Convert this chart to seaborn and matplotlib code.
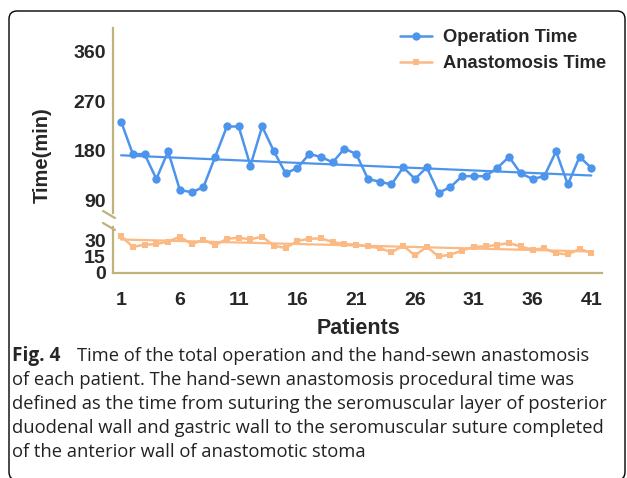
import numpy as np
import pandas as pd
import matplotlib.pyplot as plt
import seaborn as sns
from matplotlib.lines import Line2D
from matplotlib.patches import FancyBboxPatch
from matplotlib.transforms import IdentityTransform

# values
patients = list(range(1, 42))
operation_time = [233, 174, 174, 129, 179, 109, 105, 114, 169, 224,
                  224, 153, 224, 179, 139, 149, 174, 169, 159, 184,
                  174, 129, 124, 119, 150, 129, 150, 104, 114, 134,
                  134, 134, 149, 169, 139, 129, 134, 179, 119, 169, 149]
anastomosis_time = [34.5, 24.5, 26.4, 27, 29.4, 34, 27, 31, 26, 32,
                    33, 31.5, 34, 25.5, 23.3, 30, 32, 32.4, 29, 27,
                    26.6, 24.8, 23.3, 19.4, 25.5, 16.4, 24.5, 15.5, 17, 21,
                    24.5, 24.8, 26.4, 27.9, 24.8, 21.8, 23, 18.5, 17.3, 22.5, 18.8]
x_ticks = [1, 6, 11, 16, 21, 26, 31, 36, 41]
upper_ticks = [90, 180, 270, 360]
lower_ticks = [0, 15, 30]

caption_lines = [
    "of each patient. The hand-sewn anastomosis procedural time was",
    "defined as the time from suturing the seromuscular layer of posterior",
    "duodenal wall and gastric wall to the seromuscular suture completed",
    "of the anterior wall of anastomotic stoma",
]

BLUE = '#4d94ec'
ORANGE = '#fbb984'
AXIS = '#bfb27a'

df = pd.DataFrame({'patient': patients, 'operation': operation_time,
                   'anastomosis': anastomosis_time})

sns.set_style('white')
plt.rcParams['font.family'] = ['Liberation Sans', 'DejaVu Sans']

fig = plt.figure(figsize=(6.27, 4.78), dpi=100)
ax_top = fig.add_axes([0.180, 0.554, 0.780, 0.387])
ax_bot = fig.add_axes([0.180, 0.429, 0.780, 0.096])

for ax, col, color, marker, ms in [(ax_top, 'operation', BLUE, 'o', 6),
                                    (ax_bot, 'anastomosis', ORANGE, 's', 4.5)]:
    sns.lineplot(data=df, x='patient', y=col, ax=ax, color=color, marker=marker,
                 markersize=ms, markeredgewidth=0, linewidth=1.8, clip_on=False)
    sns.regplot(data=df, x='patient', y=col, ax=ax, scatter=False, ci=None,
                color=color, line_kws={'linewidth': 1.6})

for ax in (ax_top, ax_bot):
    ax.set_xlim(0.3, 41.9)
    ax.set_xlabel('')
    ax.set_ylabel('')
    for s in ('top', 'right'):
        ax.spines[s].set_visible(False)
    ax.spines['left'].set_color(AXIS)
    ax.spines['left'].set_linewidth(1.6)
    ax.tick_params(axis='y', direction='out', length=4, width=1.3, color=AXIS,
                   labelsize=14, pad=1)

ax_top.set_ylim(67, 402)
ax_top.set_yticks(upper_ticks)
ax_top.spines['bottom'].set_visible(False)
ax_top.set_xticks([])
for lab in ax_top.get_yticklabels():
    lab.set_fontweight('bold')

ax_bot.set_ylim(0, 43)
ax_bot.set_yticks(lower_ticks)
ax_bot.set_xticks(x_ticks)
ax_bot.spines['bottom'].set_color(AXIS)
ax_bot.spines['bottom'].set_linewidth(1.6)
ax_bot.tick_params(axis='x', direction='out', length=6, width=1.3, color=AXIS,
                   labelsize=14, pad=8)
for lab in ax_bot.get_xticklabels() + ax_bot.get_yticklabels():
    lab.set_fontweight('bold')

# axis break marks
for y0, y1 in [(0.5586, 0.5439), (0.5335, 0.5188)]:
    fig.add_artist(Line2D([0.1643, 0.1834], [y0, y1], transform=fig.transFigure,
                          color=AXIS, linewidth=1.6))

fig.text(42 / 627, 1 - 155 / 478, 'Time(min)', rotation=90, ha='center', va='center',
         fontsize=14.5, fontweight='bold')
fig.text(359 / 627, 1 - 328 / 478, 'Patients', ha='center', va='center',
         fontsize=15.5, fontweight='bold')

handles = [Line2D([], [], color=BLUE, marker='o', markersize=6, linewidth=1.8, markeredgewidth=0),
           Line2D([], [], color=ORANGE, marker='s', markersize=4.5, linewidth=1.8, markeredgewidth=0)]
fig.legend(handles, ['Operation Time', 'Anastomosis Time'], loc='upper left',
           bbox_to_anchor=(400 / 627, 1 - 29 / 478), frameon=False, borderpad=0,
           borderaxespad=0, handlelength=1.75, handletextpad=0.6, labelspacing=0.5,
           prop={'weight': 'bold', 'size': 13.2})

# caption
cap_font = ['Open Sans', 'DejaVu Sans']
cap_size = 13.2
fig.text(12 / 627, 1 - 361 / 478, 'Fig. 4', fontsize=cap_size + 0.5, fontweight='bold',
         family=cap_font, va='baseline')
fig.text(77 / 627, 1 - 361 / 478, 'Time of the total operation and the hand-sewn anastomosis',
         fontsize=cap_size, family=cap_font, va='baseline', color='#222222')
for i, line in enumerate(caption_lines):
    fig.text(12 / 627, 1 - (385 + 24 * i) / 478, line, fontsize=cap_size, family=cap_font,
             va='baseline', color='#222222')

# rounded frame around the figure
frame = FancyBboxPatch((9, -2), 616, 469, boxstyle='round,pad=0,rounding_size=8',
                       transform=IdentityTransform(), fill=False, edgecolor='black',
                       linewidth=1.0)
fig.add_artist(frame)

fig.savefig('out.png', dpi=100)
